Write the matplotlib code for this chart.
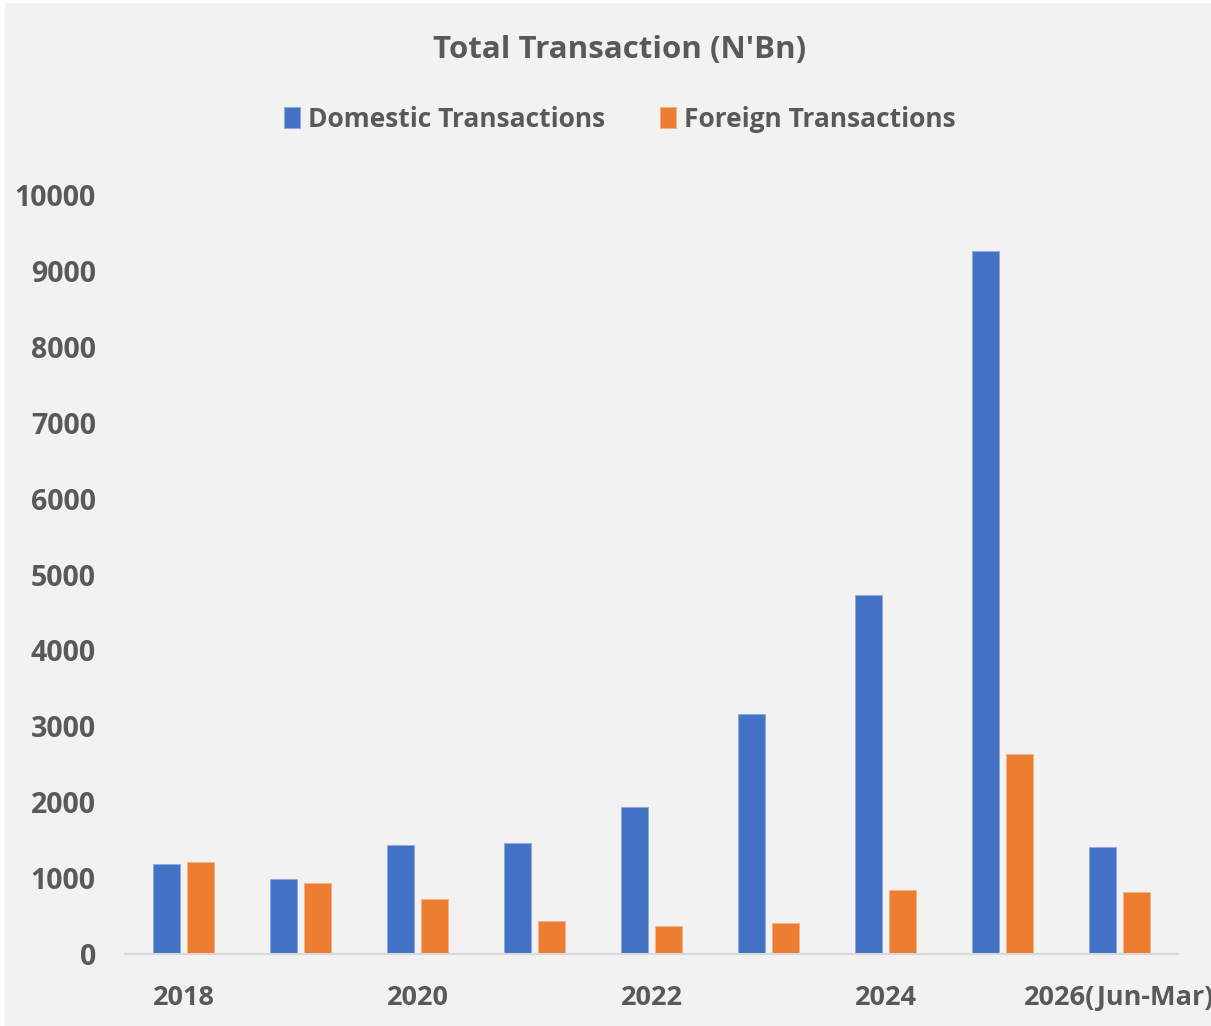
import numpy as np
import matplotlib.pyplot as plt
from matplotlib.patches import Rectangle

years = ["2018", "2019", "2020", "2021", "2022", "2023", "2024", "2025", "2026(Jun-Mar)"]
domestic = [1186, 984, 1436, 1458, 1937, 3162, 4730, 9262, 1414]
foreign = [1212, 935, 725, 431, 373, 404, 847, 2635, 813]
yticks = [0, 1000, 2000, 3000, 4000, 5000, 6000, 7000, 8000, 9000, 10000]

plt.rcParams['font.family'] = ['Open Sans', 'DejaVu Sans']
txt = '#595959'

fig = plt.figure(figsize=(12.11, 10.26), dpi=100, facecolor='white')
fig.patches.append(Rectangle((0.004, 0.0), 0.996, 0.997, transform=fig.transFigure,
                             facecolor='#f2f2f2', edgecolor='none', zorder=-1))
ax = fig.add_axes([125 / 1211, 72 / 1026, 1053 / 1211, 759 / 1026])
ax.set_facecolor('#f2f2f2')
ax.patch.set_alpha(0)

x = np.arange(len(years))
w = 0.23
off = 0.145
ax.bar(x - off, domestic, w, color='#4472c4', edgecolor='#8faadc', linewidth=0.6,
       label='Domestic Transactions')
ax.bar(x + off, foreign, w, color='#ed7d31', edgecolor='#f4b183', linewidth=0.6,
       label='Foreign Transactions')

ax.set_xlim(-0.5, len(years) - 0.5)
ax.set_ylim(0, 10000)
ax.set_yticks(yticks)
ax.set_yticklabels([str(v) for v in yticks], fontsize=20.5, fontweight='bold', color=txt)
ax.set_xticks(x[::2])
ax.set_xticklabels(years[::2], fontsize=19.5, fontweight='bold', color=txt)
ax.tick_params(axis='both', length=0)
ax.tick_params(axis='x', pad=22)
ax.tick_params(axis='y', pad=21)
for lbl in ax.get_xticklabels():
    lbl.set_clip_on(False)

for s in ['top', 'right', 'left']:
    ax.spines[s].set_visible(False)
ax.spines['bottom'].set_color('#d9d9d9')
ax.spines['bottom'].set_linewidth(1.5)

fig.text(0.5115, 0.951, "Total Transaction (N'Bn)", ha='center', va='center',
         fontsize=22.5, fontweight='bold', color=txt)
fig.legend(loc='center', bbox_to_anchor=(0.512, 0.884), ncol=2, frameon=False,
           prop={'size': 19, 'weight': 'bold'}, labelcolor=txt, handlelength=0.6,
           handleheight=0.85, handletextpad=0.3, columnspacing=2.1)

fig.savefig('out.png', dpi=100, facecolor=fig.get_facecolor())
